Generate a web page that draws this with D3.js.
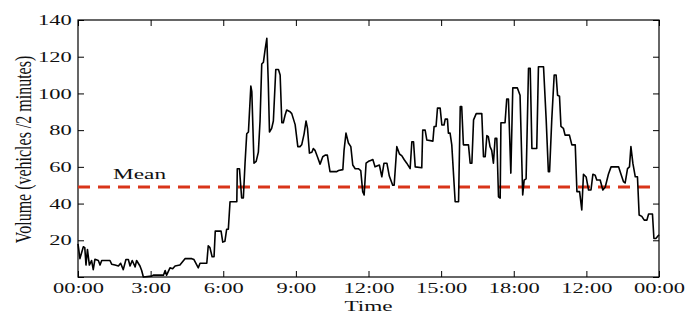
<!DOCTYPE html>
<html>
<head>
<meta charset="utf-8">
<script src="https://cdn.jsdelivr.net/npm/d3@7"></script>
<style>
  body { margin: 0; background: #fff; }
  text { font-family: "Liberation Serif", "Times New Roman", serif; fill: #111; }
</style>
</head>
<body>
<div id="viz"></div>
<script>
/* ===== DATA ===== */
// time of day in hours
const timeHours = [
  0, 0.08, 0.22, 0.28, 0.33, 0.39, 0.47, 0.56, 0.63, 0.70,
  0.84, 0.91, 0.98, 1.32, 1.39, 1.53, 1.67, 1.76, 1.87, 1.98,
  2.08, 2.15, 2.24, 2.36, 2.42, 2.56, 2.63, 2.70, 3.04, 3.11,
  3.53, 3.60, 3.66, 3.80, 3.91, 4.01, 4.21, 4.42, 4.70, 4.79,
  4.97, 5.04, 5.32, 5.38, 5.45, 5.54, 5.62, 5.67, 5.91, 5.98,
  6.07, 6.14, 6.21, 6.28, 6.46, 6.56, 6.58, 6.67, 6.76, 6.83,
  6.90, 6.97, 7.04, 7.14, 7.18, 7.27, 7.36, 7.45, 7.52, 7.59,
  7.66, 7.73, 7.80, 7.86, 7.91, 8.00, 8.07, 8.17, 8.28, 8.35,
  8.42, 8.48, 8.55, 8.62, 8.76, 8.83, 8.97, 9.08, 9.17, 9.24,
  9.34, 9.42, 9.48, 9.56, 9.66, 9.72, 9.79, 9.89, 10.00, 10.11,
  10.21, 10.30, 10.41, 10.69, 10.76, 10.94, 10.99, 11.07, 11.17, 11.27,
  11.35, 11.45, 11.58, 11.68, 11.76, 11.82, 11.90, 12.00, 12.09, 12.18,
  12.27, 12.45, 12.55, 12.64, 12.76, 12.86, 13.00, 13.06, 13.17, 13.28,
  13.38, 13.47, 13.58, 13.72, 13.79, 13.86, 13.93, 14.20, 14.24, 14.34,
  14.41, 14.66, 14.71, 14.79, 14.85, 14.96, 15.03, 15.12, 15.17, 15.26,
  15.30, 15.37, 15.44, 15.58, 15.72, 15.79, 15.85, 15.92, 16.13, 16.20,
  16.27, 16.34, 16.45, 16.68, 16.75, 16.82, 16.89, 16.95, 17.02, 17.09,
  17.16, 17.23, 17.30, 17.37, 17.44, 17.47, 17.64, 17.71, 17.78, 17.88,
  17.96, 18.15, 18.26, 18.37, 18.43, 18.51, 18.61, 18.68, 18.75, 18.95,
  19.02, 19.23, 19.34, 19.43, 19.48, 19.57, 19.67, 19.75, 19.81, 19.89,
  19.95, 20.05, 20.12, 20.30, 20.40, 20.54, 20.61, 20.72, 20.81, 20.88,
  20.99, 21.09, 21.19, 21.27, 21.36, 21.43, 21.57, 21.68, 21.78, 21.91,
  22.02, 22.33, 22.43, 22.53, 22.60, 22.70, 22.78, 22.84, 22.92, 23.02,
  23.11, 23.18, 23.29, 23.39, 23.50, 23.57, 23.73, 23.79, 23.87, 24.0
];
// volume (vehicles / 2 minutes)
const volumes = [
  18, 10, 16.5, 16, 6.5, 15, 6.5, 9, 4, 9.7,
  9, 6.5, 9, 9, 7, 6.5, 6, 7.5, 4, 9.5,
  9.5, 6, 9, 5.5, 9, 6, 3.5, 0, 0.5, 1,
  1, 3.5, 1, 5, 4.5, 6, 6.5, 10, 10, 9.5,
  5, 7.5, 7.5, 17, 16, 11, 11, 25, 25, 19,
  19.5, 26, 26, 41, 41, 41, 59, 59, 43, 43,
  62, 78, 79, 104, 101, 62, 63, 68, 85, 116,
  117, 124, 130, 106, 79, 81, 85, 113, 113, 110,
  84, 84, 88, 91, 90, 89, 83, 71, 71, 72,
  78, 85, 81, 67.5, 68, 70, 69, 65.5, 61.5, 65.5,
  66.4, 66.4, 57.4, 57.4, 58, 58.5, 69, 78.4, 73, 71,
  61, 59, 59, 58, 46.5, 44.7, 62, 63, 63.5, 64,
  60, 61, 54.6, 62, 62, 55, 50, 50, 71, 67,
  66, 64, 62, 59, 73.7, 73.7, 60, 59.5, 80, 80,
  74.6, 74, 82, 82, 92, 92, 82.8, 82.8, 86, 86,
  78.4, 78.4, 72, 41, 41, 92.8, 92.8, 72, 72, 62,
  62, 85.6, 89, 89, 65.5, 65.5, 77, 76.5, 71, 69,
  62, 75.5, 75.5, 43.7, 43, 84, 84, 97, 97, 56.6,
  103, 103, 99, 44.7, 52.8, 53.5, 113.7, 113.7, 70, 70,
  114.5, 114.5, 85.6, 57.4, 57.4, 85.6, 110, 110, 99, 98.5,
  82, 81, 77.3, 77.3, 72, 72, 46.5, 46.5, 36.5, 56,
  54.5, 47.4, 47.4, 56, 55.5, 52.8, 52.8, 47.4, 49, 56,
  60, 60, 56, 52, 51.2, 59, 60, 71, 62, 54.6,
  54.6, 33.8, 33, 31, 31, 34.3, 34.3, 21, 21, 23
];
const meanValue = 49;
const xTickHours = [0, 3, 6, 9, 12, 15, 18, 21, 24];
const xTickLabels = ['00:00', '3:00', '6:00', '9:00', '12:00', '15:00', '18:00', '12:00', '00:00'];
const yTickValues = [0, 20, 40, 60, 80, 100, 120, 140];

/* ===== CHART DIMENSION ===== */
const width = 693;
const height = 326;
const margin = { top: 20, right: 34, bottom: 49, left: 78 };
const boundedWidth = width - margin.left - margin.right;
const boundedHeight = height - margin.top - margin.bottom;
const stretch = 'scale(1.5,1)'; // text in the picture is stretched sideways
const tickStretch = 'scale(1.55,1)';

/* ===== DRAW CANVAS ===== */
const svg = d3.select('#viz')
  .append('svg')
  .attr('width', width)
  .attr('height', height);

const viz = svg.append('g')
  .attr('transform', `translate(${margin.left}, ${margin.top})`);

/* ===== SCALES ===== */
const xScale = d3.scaleLinear()
  .domain([0, 24])
  .range([0, boundedWidth]);

const yScale = d3.scaleLinear()
  .domain([0, 140])
  .range([boundedHeight, 0]);

const data = timeHours.map((t, i) => ({ t: t, v: volumes[i] }));

/* ===== AXES ===== */
const xAxis = d3.axisBottom(xScale)
  .tickValues(xTickHours)
  .tickFormat((d, i) => xTickLabels[i])
  .tickSizeInner(-6)
  .tickSizeOuter(0)
  .tickPadding(6);

const gx = viz.append('g')
  .attr('transform', `translate(0, ${boundedHeight})`)
  .call(xAxis);
gx.selectAll('text')
  .attr('font-size', 14.5)
  .attr('transform', tickStretch);

viz.append('g')
  .call(d3.axisTop(xScale).tickValues(xTickHours).tickFormat('').tickSizeInner(-6).tickSizeOuter(0));

const gy = viz.append('g')
  .call(d3.axisLeft(yScale)
    .tickValues(yTickValues)
    .tickFormat(d => d === 0 ? '' : d)
    .tickSizeInner(-6)
    .tickSizeOuter(0));
gy.selectAll('text')
  .attr('x', -4)
  .attr('font-size', 14.5)
  .attr('transform', tickStretch);

viz.append('g')
  .attr('transform', `translate(${boundedWidth}, 0)`)
  .call(d3.axisRight(yScale).tickValues(yTickValues).tickFormat('').tickSizeInner(-6).tickSizeOuter(0));

viz.selectAll('.domain').remove();
viz.selectAll('.tick line').attr('stroke', '#000').attr('stroke-width', 1);
viz.selectAll('.tick text').attr('fill', '#111').style('font-family', '"Liberation Serif", serif');

// frame
viz.append('rect')
  .attr('width', boundedWidth)
  .attr('height', boundedHeight)
  .attr('fill', 'none')
  .attr('stroke', '#000')
  .attr('stroke-width', 1.2);

/* ===== MEAN LINE ===== */
viz.append('line')
  .attr('x1', xScale(0))
  .attr('x2', xScale(24) - 8)
  .attr('y1', yScale(meanValue))
  .attr('y2', yScale(meanValue))
  .attr('stroke', '#d9351a')
  .attr('stroke-width', 3)
  .attr('stroke-dasharray', '12,8');

viz.append('text')
  .attr('transform', `translate(${xScale(1.45)}, ${yScale(meanValue) - 8.5}) ${stretch}`)
  .attr('font-size', 15.5)
  .text('Mean');

/* ===== VOLUME LINE ===== */
const line = d3.line()
  .x(d => xScale(d.t))
  .y(d => yScale(d.v));

viz.append('path')
  .datum(data)
  .attr('fill', 'none')
  .attr('stroke', '#000')
  .attr('stroke-width', 1.6)
  .attr('stroke-linejoin', 'round')
  .attr('d', line);

/* ===== LABELS ===== */
viz.append('text')
  .attr('transform', `translate(${boundedWidth / 2}, ${boundedHeight + 33.5}) ${stretch}`)
  .attr('text-anchor', 'middle')
  .attr('font-size', 15.5)
  .text('Time');

svg.append('text')
  .attr('transform', `translate(31, ${margin.top + boundedHeight / 2 + 1}) ${stretch} rotate(-90)`)
  .attr('text-anchor', 'middle')
  .attr('font-size', 16)
  .text('Volume (vehicles /2 minutes)');
</script>
</body>
</html>
